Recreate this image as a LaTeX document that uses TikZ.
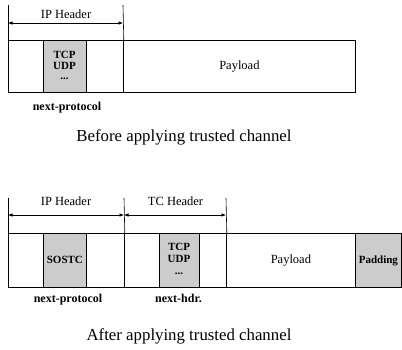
\documentclass[tikz,border=0pt]{standalone}
\usepackage{fontspec}
\setmainfont{Liberation Serif}
\usetikzlibrary{arrows.meta}
\begin{document}
\begin{tikzpicture}[x=1pt,y=-1pt,
  fld/.style={draw,line width=0.8pt,inner sep=0pt},
  grayfld/.style={fld,fill=gray!40},
  hdrtxt/.style={font=\fontsize{12.5}{14}\selectfont,anchor=base,inner sep=0pt},
  lbltxt/.style={font=\fontsize{12}{14}\selectfont\bfseries,anchor=base,inner sep=0pt},
  inlbl/.style={font=\fontsize{11}{12}\selectfont\bfseries,inner sep=0pt},
  captxt/.style={font=\fontsize{16.8}{19}\selectfont,anchor=base,inner sep=0pt},
  dimarrow/.style={line width=0.6pt,{Latex[length=4.5pt,width=3.5pt]}-{Latex[length=4.5pt,width=3.5pt]}},
  tickline/.style={line width=0.6pt}]
\useasboundingbox (0,0) rectangle (402,349);
% ---------- top ----------
\node[fld,minimum width=115,minimum height=52,anchor=north west] (iph1) at (8,40) {};
\node[fld,minimum width=232,minimum height=52,anchor=north west,font=\fontsize{12.5}{14}\selectfont] (pay1) at (123,40) {Payload};
\node[grayfld,minimum width=43,minimum height=52,anchor=north west] (np1) at (43,40) {};
\node[inlbl] (tcp1) at (64.5,55) {TCP};
\node[inlbl] (udp1) at (64.5,66) {UDP};
\node[inlbl] (dots1) at (64.5,79) {...};
\coordinate (a1) at (8,5);
\coordinate (b1) at (123,5);
\draw[tickline] (a1) -- (iph1.north west);
\draw[tickline] (b1) -- (iph1.north east);
\coordinate (da1) at (8,23);
\coordinate (db1) at (123,23);
\draw[dimarrow] (da1) -- (db1);
\node[hdrtxt] (t1) at (66,18) {IP Header};
\node[lbltxt] (nl1) at (67,110) {next-protocol};
\node[captxt] (c1) at (184,141) {Before applying trusted channel};
% ---------- bottom ----------
\node[fld,minimum width=116,minimum height=54,anchor=north west] (iph2) at (8,233) {};
\node[fld,minimum width=102,minimum height=54,anchor=north west] (tch2) at (124,233) {};
\node[fld,minimum width=129,minimum height=54,anchor=north west,font=\fontsize{12.5}{14}\selectfont] (pay2) at (226,233) {Payload};
\node[grayfld,minimum width=46,minimum height=54,anchor=north west,inlbl] (pad2) at (355,233) {Padding};
\node[grayfld,minimum width=43,minimum height=54,anchor=north west,inlbl] (np2) at (43,233) {SOSTC};
\node[grayfld,minimum width=40,minimum height=54,anchor=north west] (nh2) at (159,233) {};
\node[inlbl] (tcp2) at (179,247) {TCP};
\node[inlbl] (udp2) at (179,259) {UDP};
\node[inlbl] (dots2) at (179,274) {...};
\coordinate (a2) at (8,198);
\coordinate (b2) at (124,198);
\coordinate (e2) at (226,198);
\draw[tickline] (a2) -- (iph2.north west);
\draw[tickline] (b2) -- (iph2.north east);
\draw[tickline] (e2) -- (tch2.north east);
\coordinate (da2) at (8,215);
\coordinate (db2) at (124,215);
\coordinate (de2) at (226,215);
\draw[dimarrow] (da2) -- (db2);
\draw[dimarrow] (db2) -- (de2);
\node[hdrtxt] (t2) at (66,205) {IP Header};
\node[hdrtxt] (t3) at (175.5,205) {TC Header};
\node[lbltxt] (nl2) at (68,302) {next-protocol};
\node[lbltxt] (nl3) at (178.5,302) {next-hdr.};
\node[captxt] (c2) at (189,340) {After applying trusted channel};
\end{tikzpicture}
\end{document}
